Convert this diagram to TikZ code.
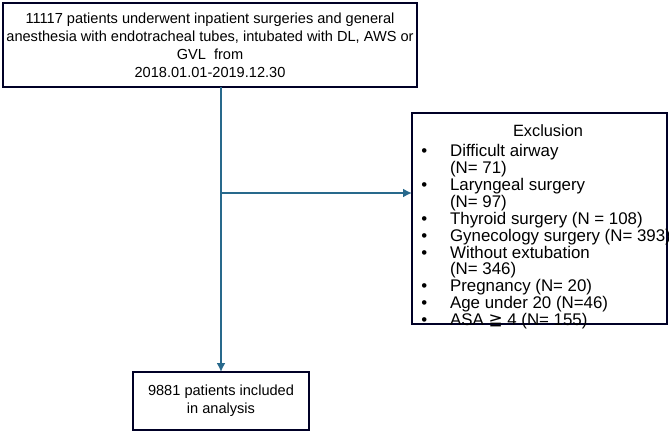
\documentclass[tikz,border=0pt]{standalone}
\usepackage{fontspec}
\setmainfont{Liberation Sans}
\newfontfamily\djv{DejaVu Sans}
\begin{document}
\begin{tikzpicture}[x=0.02cm,y=-0.02cm,
  box/.style={draw=black!85!blue,line width=0.8pt,inner sep=0pt},
  conn/.style={draw={rgb,255:red,40;green,105;blue,140},line width=1pt},
  arr/.style={conn,-{Latex[length=5pt,width=5pt]}}]
\usetikzlibrary{arrows.meta}
\useasboundingbox (0,0) rectangle (669,432);
\fontsize{8.3pt}{10.2pt}\selectfont
\draw[box] (3,3) rectangle (417,87);
\node[align=center] (top) at (210,45) {11117 patients underwent inpatient surgeries and general\\anesthesia with endotracheal tubes, intubated with DL, AWS or\\GVL\ \ from\\2018.01.01-2019.12.30};
\draw[box] (133,372) rectangle (309,430);
\node[align=center] (bot) at (221,401) {\fontsize{8.3pt}{9.6pt}\selectfont 9881 patients included\\in analysis};
\draw[box] (412,113) rectangle (667,324);
\node (exh) at (548,131) {\fontsize{9.3pt}{9pt}\selectfont Exclusion};
\node[anchor=north west,inner sep=0pt] (exl) at (421,144) {\fontsize{9.6pt}{8.9pt}\selectfont\renewcommand{\arraystretch}{1}%
\begin{tabular}{@{}l@{\hspace{13pt}}l@{}}
\textbullet & Difficult airway\\
 & (N= 71)\\
\textbullet & Laryngeal surgery\\
 & (N= 97)\\
\textbullet & Thyroid surgery (N = 108)\\
\textbullet & Gynecology surgery (N= 393)\\
\textbullet & Without extubation\\
 & (N= 346)\\
\textbullet & Pregnancy (N= 20)\\
\textbullet & Age under 20 (N=46)\\
\textbullet & ASA {\djv ≧} 4 (N= 155)
\end{tabular}};
\coordinate (a) at (221,87);
\coordinate (b) at (221,193);
\coordinate (c) at (412,193);
\coordinate (d) at (221,372);
\draw[arr] (a) -- (d);
\draw[arr] (b) -- (c);
\end{tikzpicture}
\end{document}
